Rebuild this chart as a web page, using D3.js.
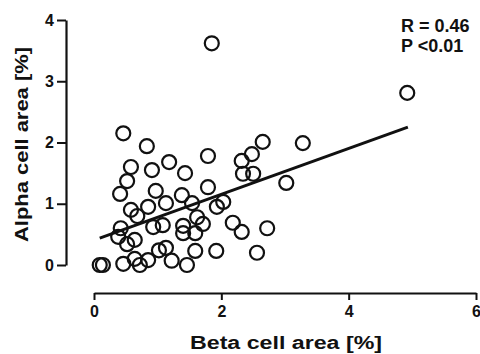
<!DOCTYPE html>
<html>
<head>
<meta charset="utf-8">
<script src="https://cdn.jsdelivr.net/npm/d3@7"></script>
<style>
  body { margin: 0; background: #fff; }
  svg { display: block; font-family: "Liberation Sans", Arial, sans-serif; font-weight: bold; }
</style>
</head>
<body>
<svg id="chart" width="480" height="354"></svg>
<script>
// beta cell area [%] vs alpha cell area [%], one entry per sample
const betaArea = [1.85, 4.92, 3.28, 2.65, 2.48, 2.32, 2.34, 2.50, 1.79, 1.43,
    1.79, 3.02, 0.46, 0.83, 1.18, 0.58, 0.91, 0.52, 0.97, 0.41,
    1.38, 1.13, 0.85, 0.58, 0.68, 1.54, 2.03, 1.93, 1.62, 1.71,
    0.93, 1.08, 1.40, 1.40, 1.59, 2.18, 2.32, 2.72, 0.42, 0.38,
    0.64, 0.52, 1.02, 1.13, 1.59, 1.92, 2.56, 0.09, 0.14, 0.46,
    0.64, 0.72, 0.85, 1.22, 1.46];
const alphaArea = [3.62, 2.81, 1.99, 2.01, 1.81, 1.70, 1.49, 1.49, 1.78, 1.50,
    1.27, 1.34, 2.15, 1.94, 1.68, 1.60, 1.55, 1.37, 1.21, 1.16,
    1.14, 1.01, 0.95, 0.90, 0.80, 1.01, 1.03, 0.95, 0.78, 0.67,
    0.62, 0.65, 0.64, 0.52, 0.52, 0.69, 0.54, 0.60, 0.60, 0.46,
    0.41, 0.34, 0.24, 0.28, 0.23, 0.23, 0.20, 0.00, 0.00, 0.02,
    0.10, 0.00, 0.08, 0.07, 0.00];
// fitted regression line, start and end
const fitX = [0.09, 4.93];
const fitY = [0.44, 2.25];
const xTicks = [0, 2, 4, 6];
const yTicks = [0, 1, 2, 3, 4];
const statsText = ["R = 0.46", "P <0.01"];

const INK = "#111";
const svg = d3.select("#chart");

const x = d3.scaleLinear().domain([0, 6]).range([94, 476]);
const y = d3.scaleLinear().domain([0, 4]).range([265, 20]);

function styleAxis(sel) {
    sel.select(".domain").attr("stroke", INK).attr("stroke-width", 2.2);
    sel.selectAll(".tick line").attr("stroke", INK).attr("stroke-width", 2);
    sel.selectAll(".tick text").attr("fill", INK).attr("font-size", 16)
        .attr("font-weight", "bold").attr("font-family", "Liberation Sans, Arial, sans-serif");
}

const xAx = svg.append("g").attr("transform", "translate(0,293)")
    .call(d3.axisBottom(x).tickValues(xTicks).tickFormat(d3.format("d"))
        .tickSize(7).tickSizeOuter(0).tickPadding(6));
styleAxis(xAx);

const yAx = svg.append("g").attr("transform", "translate(66,0)")
    .call(d3.axisLeft(y).tickValues(yTicks).tickFormat(d3.format("d"))
        .tickSize(9).tickSizeOuter(0).tickPadding(3));
styleAxis(yAx);

// regression line
svg.append("line")
    .attr("x1", x(fitX[0])).attr("y1", y(fitY[0]))
    .attr("x2", x(fitX[1])).attr("y2", y(fitY[1]))
    .attr("stroke", INK).attr("stroke-width", 3);

// open circles
svg.append("g").selectAll("circle")
    .data(d3.zip(betaArea, alphaArea)).enter().append("circle")
    .attr("cx", d => x(d[0])).attr("cy", d => y(d[1]))
    .attr("r", 7)
    .attr("fill", "none").attr("stroke", INK).attr("stroke-width", 2.2);

// stats
svg.append("g").selectAll("text").data(statsText).enter().append("text")
    .attr("x", 401).attr("y", (d, i) => 32 + i * 20)
    .attr("font-size", 18).attr("fill", INK)
    .text(d => d);

// axis titles — source font is wider than Liberation, so stretch to the measured width
svg.append("text")
    .attr("x", 190).attr("y", 349)
    .attr("font-size", 18).attr("fill", INK)
    .attr("textLength", 192).attr("lengthAdjust", "spacingAndGlyphs")
    .text("Beta cell area [%]");

svg.append("text")
    .attr("transform", "translate(28,242) rotate(-90)")
    .attr("font-size", 18).attr("fill", INK)
    .attr("textLength", 195).attr("lengthAdjust", "spacingAndGlyphs")
    .text("Alpha cell area [%]");
</script>
</body>
</html>
